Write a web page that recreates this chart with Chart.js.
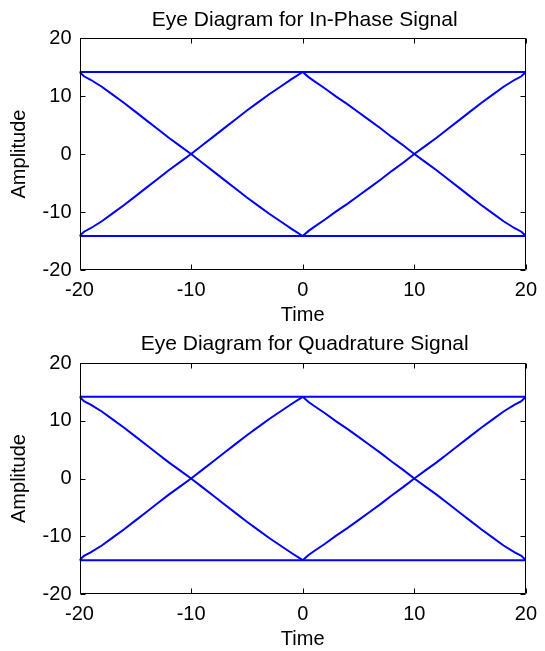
<!DOCTYPE html>
<html>
<head>
<meta charset="utf-8">
<script src="https://cdn.jsdelivr.net/npm/chart.js@4"></script>
<style>
  html, body { margin: 0; padding: 0; background: #fff; }
  #wrap { position: relative; width: 545px; height: 651px; background: #fff; }
  canvas { position: absolute; left: 0; }
</style>
</head>
<body>
<div id="wrap">
  <canvas id="c1" width="545" height="325" style="top:0px"></canvas>
  <canvas id="c2" width="545" height="326" style="top:325px"></canvas>
</div>
<script>
// ---- Data ----
const tickValues = [-20, -10, 0, 10, 20];

// first symbol interval (time -20 .. 0)
const timeFirst = [-20, -19.6, -19, -18, -17, -16, -15, -14, -13, -12, -11, -10, -9, -8, -7, -6, -5, -4, -3, -2, -1, 0];
const fallFirstI = [14.14, 13.4, 12.8, 11.6, 10.2, 8.8, 7.3, 5.8, 4.3, 2.8, 1.4, 0, -1.5, -3.0, -4.5, -6.0, -7.5, -8.9, -10.3, -11.6, -12.9, -14.14];
const riseFirstI = [-14.14, -13.4, -12.8, -11.6, -10.2, -8.8, -7.3, -5.8, -4.3, -2.8, -1.4, 0, 1.5, 3.0, 4.5, 6.0, 7.5, 8.9, 10.3, 11.6, 12.9, 14.14];

// second symbol interval (time 0 .. 20)
const timeSecond = [0, 0.5, 1, 2, 3, 4, 5, 6, 7, 8, 9, 10, 11, 12, 13, 14, 15, 16, 17, 18, 19, 19.6, 20];
const riseSecondI = [-14.14, -13.3, -12.6, -11.3, -9.9, -8.6, -7.2, -5.8, -4.4, -2.9, -1.5, 0, 1.4, 2.8, 4.3, 5.8, 7.3, 8.8, 10.2, 11.6, 12.8, 13.4, 14.14];
const fallSecondI = [14.14, 13.3, 12.6, 11.3, 9.9, 8.6, 7.2, 5.8, 4.4, 2.9, 1.5, 0, -1.4, -2.8, -4.3, -5.8, -7.3, -8.8, -10.2, -11.6, -12.8, -13.4, -14.14];

// flat levels across the full window
const levelTime = [-20, 20];
const highLevel = [14.14, 14.14];
const lowLevel = [-14.14, -14.14];

// Quadrature signal traces
const fallFirstQ = [14.14, 13.4, 12.8, 11.6, 10.2, 8.8, 7.3, 5.8, 4.3, 2.8, 1.4, 0, -1.5, -3.0, -4.5, -6.0, -7.5, -8.9, -10.3, -11.6, -12.9, -14.14];
const riseFirstQ = [-14.14, -13.4, -12.8, -11.6, -10.2, -8.8, -7.3, -5.8, -4.3, -2.8, -1.4, 0, 1.5, 3.0, 4.5, 6.0, 7.5, 8.9, 10.3, 11.6, 12.9, 14.14];
const riseSecondQ = [-14.14, -13.3, -12.6, -11.3, -9.9, -8.6, -7.2, -5.8, -4.4, -2.9, -1.5, 0, 1.4, 2.8, 4.3, 5.8, 7.3, 8.8, 10.2, 11.6, 12.8, 13.4, 14.14];
const fallSecondQ = [14.14, 13.3, 12.6, 11.3, 9.9, 8.6, 7.2, 5.8, 4.4, 2.9, 1.5, 0, -1.4, -2.8, -4.3, -5.8, -7.3, -8.8, -10.2, -11.6, -12.8, -13.4, -14.14];

const titleI = 'Eye Diagram for In-Phase Signal';
const titleQ = 'Eye Diagram for Quadrature Signal';
const xLabel = 'Time';
const yLabel = 'Amplitude';

// ---- helpers ----
const FONT = '"Liberation Sans", Arial, sans-serif';
const BLUE = '#0000ff';

function pts(xs, ys) { return xs.map((x, i) => ({ x: x, y: ys[i] })); }
function ds(xs, ys) {
  return { data: pts(xs, ys), borderColor: BLUE, borderWidth: 2, pointRadius: 0, fill: false, tension: 0 };
}

const boxPlugin = {
  id: 'matlabBox',
  afterDatasetsDraw(chart, args, opts) {
    const ctx = chart.ctx;
    const a = chart.chartArea;
    const xs = chart.scales.x, ys = chart.scales.y;
    const L = Math.round(a.left) + 0.5, R = Math.round(a.right) - 0.5;
    const T = Math.round(a.top) + 0.5, B = Math.round(a.bottom) - 0.5;
    ctx.save();
    ctx.strokeStyle = '#000';
    ctx.lineWidth = 1;
    ctx.beginPath();
    ctx.rect(L, T, R - L, B - T);
    const tl = 5;
    tickValues.forEach(v => {
      const px = Math.round(xs.getPixelForValue(v)) + 0.5;
      ctx.moveTo(px, B); ctx.lineTo(px, B - tl);
      ctx.moveTo(px, T); ctx.lineTo(px, T + tl);
      const py = Math.round(ys.getPixelForValue(v)) + 0.5;
      ctx.moveTo(L, py); ctx.lineTo(L + tl, py);
      ctx.moveTo(R, py); ctx.lineTo(R - tl, py);
    });
    ctx.stroke();
    // plot title centred over the plot area
    ctx.fillStyle = '#000';
    ctx.font = '21px ' + FONT;
    ctx.textAlign = 'center';
    ctx.textBaseline = 'alphabetic';
    ctx.fillText(opts.text, (a.left + a.right) / 2 + 2, opts.baseline);
    ctx.restore();
  }
};

function makeChart(id, title, series, cfg) {
  const datasets = [
    ds(levelTime, highLevel),
    ds(levelTime, lowLevel),
    ds(timeFirst, series.fallFirst),
    ds(timeFirst, series.riseFirst),
    ds(timeSecond, series.riseSecond),
    ds(timeSecond, series.fallSecond)
  ];
  return new Chart(document.getElementById(id), {
    type: 'line',
    data: { datasets: datasets },
    plugins: [boxPlugin],
    options: {
      responsive: false,
      animation: false,
      devicePixelRatio: 1,
      layout: { padding: { left: 0, right: 13, top: cfg.top, bottom: 0 } },
      plugins: {
        legend: { display: false },
        tooltip: { enabled: false },
        title: { display: false },
        matlabBox: { text: title, baseline: cfg.titleBaseline }
      },
      scales: {
        x: {
          type: 'linear',
          min: -20, max: 20,
          grid: { display: false, drawTicks: false },
          border: { display: false },
          ticks: {
            stepSize: 10, color: '#000', padding: 8, maxRotation: 0, autoSkip: false,
            font: { family: FONT, size: 20 }
          },
          title: {
            display: true, text: xLabel, color: '#000',
            font: { family: FONT, size: 20, lineHeight: 1 },
            padding: { top: 0, bottom: cfg.xTitleBottom }
          },
          afterFit(scale) { scale.height = cfg.xHeight; }
        },
        y: {
          type: 'linear',
          min: -20, max: 20,
          grid: { display: false, drawTicks: false },
          border: { display: false },
          ticks: {
            stepSize: 10, color: '#000', padding: 8,
            font: { family: FONT, size: 20 }
          },
          title: {
            display: true, text: yLabel, color: '#000',
            font: { family: FONT, size: 20, lineHeight: 1 },
            padding: { top: 9, bottom: 0 }
          },
          afterFit(scale) { scale.width = 79.5; }
        }
      }
    }
  });
}

makeChart('c1', titleI,
  { fallFirst: fallFirstI, riseFirst: riseFirstI, riseSecond: riseSecondI, fallSecond: fallSecondI },
  { top: 38, titleBaseline: 25.5, xHeight: 55, xTitleBottom: 0 });
makeChart('c2', titleQ,
  { fallFirst: fallFirstQ, riseFirst: riseFirstQ, riseSecond: riseSecondQ, fallSecond: fallSecondQ },
  { top: 38, titleBaseline: 24.5, xHeight: 57, xTitleBottom: 2 });
</script>
</body>
</html>
